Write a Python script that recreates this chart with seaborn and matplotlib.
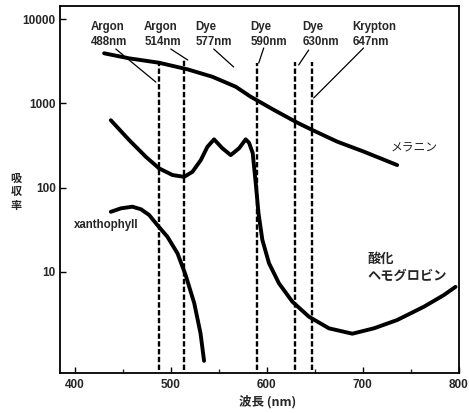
import numpy as np
import pandas as pd
import matplotlib
matplotlib.use("Agg")
import matplotlib.pyplot as plt
import matplotlib.ticker as mticker
import seaborn as sns

# ---------------- data ----------------
melanin_nm = [430.5, 456.6, 487.8, 517.4, 543.4, 567.7, 583.3, 607.6, 632,
              647.6, 673.6, 701.4, 736]
melanin_abs = [3945, 3435, 3046, 2543, 2075, 1580, 1202, 836, 590,
               483, 351, 267, 185]

hb_nm = [437.5, 456.6, 474, 487.8, 501.7, 513.9, 522.6, 531.3, 538.2, 545.1,
         553.8, 562.5, 571.2, 578.1, 581.6, 585.4, 588.5, 591.5, 595.5, 602.4,
         612.8, 626.8, 644.1, 664.9, 689.3, 711.8, 736, 763.9, 784.7, 796.9]
hb_abs = [631, 367, 232, 169, 141, 134, 154, 212, 305, 374,
          293, 243, 293, 374, 341, 257, 115, 49, 23.8, 12.6,
          7.26, 4.39, 2.91, 2.12, 1.83, 2.12, 2.66, 3.83, 5.27, 6.6]

xan_nm = [437.5, 448, 460, 469, 477.5, 486, 496.5, 507, 515.5, 524.5, 531, 534.7]
xan_abs = [51.5, 56.6, 59.2, 55.1, 47.1, 35.8, 26, 16.5, 9.1, 4.2, 1.85, 0.87]

laser_nm = [488, 514, 590, 630, 647]
laser_labels = ["Argon\n488nm", "Argon\n514nm", "Dye\n577nm",
                "Dye\n590nm", "Dye\n630nm", "Krypton\n647nm"]

x_ticks = [400, 500, 600, 700, 800]
x_minor = [450, 550, 650, 750]
y_ticks = [10, 100, 1000, 10000]
y_tick_labels = ["10", "100", "1000", "10000"]

curve_names = ["メラニン", "酸化\nヘモグロビン", "xanthophyll"]
x_label = "波長 (nm)"
y_label = "吸\n収\n率"

# ---------------- style ----------------
sns.set_style("white")
plt.rcParams["font.family"] = ["Liberation Sans", "Noto Sans CJK JP", "DejaVu Sans"]
jp = ["Noto Sans CJK JP", "DejaVu Sans"]

fig = plt.figure(figsize=(4.69, 4.13), dpi=100)
ax = fig.add_axes([60 / 469, 40 / 413, 399 / 469, 367 / 413])

curve_kw = dict(color="black", linewidth=2.8, estimator=None, sort=False, ax=ax, legend=False)
for xs, ys in [(melanin_nm, melanin_abs), (hb_nm, hb_abs), (xan_nm, xan_abs)]:
    sns.lineplot(x=xs, y=ys, **curve_kw)
for ln in ax.get_lines():
    ln.set_solid_joinstyle("round")
    ln.set_solid_capstyle("round")

ax.set_yscale("log")
ax.set_xlim(384.5, 800.5)
ax.set_ylim(0.624, 14400)

# dashed laser lines
line_tops = [3100, 3280, 3020, 3100, 3100]
for nm, top in zip(laser_nm, line_tops):
    ax.plot([nm, nm], [0.68, top], color="black", lw=1.7,
            linestyle=(0, (2.3, 1.0)), solid_capstyle="butt")

# label texts
label_x = [416.7, 472.2, 526, 583.3, 637.2, 689.3]
for lx, txt in zip(label_x, laser_labels):
    ax.text(lx, 9500, txt, ha="left", va="top", fontsize=8.3,
            fontweight="bold", linespacing=1.3)

# leader lines
leaders = [
    ((442.7, 4436), (484.4, 1795)),
    ((500.0, 4436), (517.7, 3280)),
    ((544.8, 4436), (565.6, 2710)),
    ((596.9, 4560), (591.7, 3020)),
    ((643.8, 4315), (633.3, 2865)),
    ((701.0, 4560), (649.0, 1160)),
]
for (x1, y1), (x2, y2) in leaders:
    ax.plot([x1, x2], [y1, y2], color="black", lw=0.9)

# curve names
ax.text(729, 294, curve_names[0], ha="left", va="center", fontsize=8.5,
        family=jp)
ax.text(705, 11.2, curve_names[1], ha="left", va="center", fontsize=9.5,
        family=jp, fontweight="bold", linespacing=1.25)
ax.text(399.3, 35.8, curve_names[2], ha="left", va="center", fontsize=8.3,
        fontweight="bold")

# ticks
ax.set_xticks(x_ticks)
ax.set_xticks(x_minor, minor=True)
ax.set_yticks(y_ticks)
ax.set_yticklabels(y_tick_labels)
ax.yaxis.set_minor_locator(mticker.NullLocator())
ax.tick_params(axis="both", which="major", direction="in", length=4, width=1,
               labelsize=8.5, color="black", bottom=True, left=True)
ax.tick_params(axis="x", which="minor", direction="in", length=3, width=1, bottom=True)
ax.tick_params(axis="x", pad=4)
ax.tick_params(axis="y", pad=3)
for lab in ax.get_xticklabels() + ax.get_yticklabels():
    lab.set_fontweight("bold")

for sp in ax.spines.values():
    sp.set_color("black")
    sp.set_linewidth(1.3)
    sp.set_visible(True)

ax.set_xlabel("")
ax.set_ylabel("")
fig.text(268 / 469, 1 - 401.7 / 413, x_label, ha="center", va="center",
         fontsize=9, fontweight="bold", family=jp)
fig.text(16 / 469, 1 - 192 / 413, y_label, ha="center", va="center",
         fontsize=8, fontweight="bold", family=jp, linespacing=1.05)

fig.savefig("out.png", dpi=100)
